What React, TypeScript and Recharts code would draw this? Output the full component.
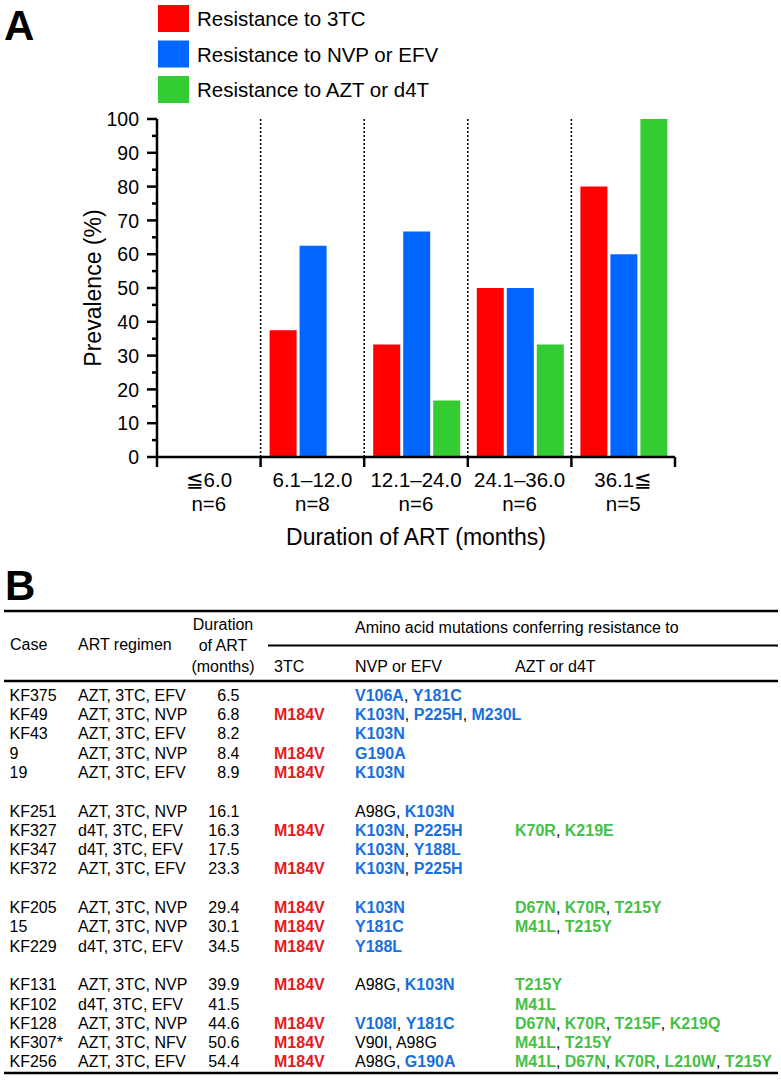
import React from "react";
import { BarChart, Bar, XAxis, YAxis, Legend } from "recharts";

// ---------- Panel A data ----------
const CATEGORIES = ["≦6.0", "6.1–12.0", "12.1–24.0", "24.1–36.0", "36.1≦"];
const SAMPLE_SIZES = ["n=6", "n=8", "n=6", "n=6", "n=5"];
const RES_3TC = [0, 37.5, 33.3, 50, 80];
const RES_NNRTI = [0, 62.5, 66.7, 50, 60];
const RES_NRTI = [0, 0, 16.7, 33.3, 100];
const Y_TICKS = [0, 5, 10, 15, 20, 25, 30, 35, 40, 45, 50, 55, 60, 65, 70, 75, 80, 85, 90, 95, 100];
const SERIES = [
  { key: "r3tc", name: "Resistance to 3TC", color: "#ff0000" },
  { key: "nnrti", name: "Resistance to NVP or EFV", color: "#0066ff" },
  { key: "nrti", name: "Resistance to AZT or d4T", color: "#33cc33" },
];

// ---------- Panel B data ----------
const CASES = ["KF375", "KF49", "KF43", "9", "19", "KF251", "KF327", "KF347", "KF372", "KF205", "15", "KF229", "KF131", "KF102", "KF128", "KF307*", "KF256"];
const REGIMENS = ["AZT, 3TC, EFV", "AZT, 3TC, NVP", "AZT, 3TC, EFV", "AZT, 3TC, NVP", "AZT, 3TC, EFV", "AZT, 3TC, NVP", "d4T, 3TC, EFV", "d4T, 3TC, EFV", "AZT, 3TC, EFV", "AZT, 3TC, NVP", "AZT, 3TC, NVP", "d4T, 3TC, EFV", "AZT, 3TC, NVP", "d4T, 3TC, EFV", "AZT, 3TC, NVP", "AZT, 3TC, NFV", "AZT, 3TC, EFV"];
const DURATIONS = ["6.5", "6.8", "8.2", "8.4", "8.9", "16.1", "16.3", "17.5", "23.3", "29.4", "30.1", "34.5", "39.9", "41.5", "44.6", "50.6", "54.4"];
const MUT_3TC = [[], ["M184V"], [], ["M184V"], ["M184V"], [], ["M184V"], [], ["M184V"], ["M184V"], ["M184V"], ["M184V"], ["M184V"], [], ["M184V"], ["M184V"], ["M184V"]];
const MUT_NNRTI = [["V106A", "Y181C"], ["K103N", "P225H", "M230L"], ["K103N"], ["G190A"], ["K103N"], ["A98G", "K103N"], ["K103N", "P225H"], ["K103N", "Y188L"], ["K103N", "P225H"], ["K103N"], ["Y181C"], ["Y188L"], ["A98G", "K103N"], [], ["V108I", "Y181C"], ["V90I", "A98G"], ["A98G", "G190A"]];
const MUT_NRTI = [[], [], [], [], [], [], ["K70R", "K219E"], [], [], ["D67N", "K70R", "T215Y"], ["M41L", "T215Y"], [], ["T215Y"], ["M41L"], ["D67N", "K70R", "T215F", "K219Q"], ["M41L", "T215Y"], ["M41L", "D67N", "K70R", "L210W", "T215Y"]];
const GROUP_SIZES = [5, 4, 3, 5];
const PLAIN_MUTATIONS = ["A98G", "V90I"];

const FONT = "'Liberation Sans', Arial, Helvetica, sans-serif";
const PLOT_TOP = 119;
const PLOT_BOTTOM = 457;
const PLOT_LEFT = 157;
const PLOT_RIGHT = 675;
const BAND = (PLOT_RIGHT - PLOT_LEFT) / CATEGORIES.length;

const TXT_RED = "#e41b1f";
const TXT_BLUE = "#1a6fde";
const TXT_GREEN = "#46c046";

const chartData = CATEGORIES.map((c, i) => ({
  cat: c,
  n: SAMPLE_SIZES[i],
  r3tc: RES_3TC[i],
  nnrti: RES_NNRTI[i],
  nrti: RES_NRTI[i],
}));

function YTick(props: any) {
  const { x, y, payload } = props;
  const major = payload.value % 10 === 0;
  return (
    <g>
      <line x1={x - (major ? 10 : 5)} x2={x} y1={y} y2={y} stroke="#000" strokeWidth={2.5} />
      {major && (
        <text x={x - 18} y={y} dy={7.2} textAnchor="end" fontSize={19.5} fill="#000" fontFamily={FONT}>
          {payload.value}
        </text>
      )}
    </g>
  );
}

function XTick(props: any) {
  const { x, y, payload, index } = props;
  const idx = typeof index === "number" ? index : CATEGORIES.indexOf(payload.value);
  const left = x - BAND / 2;
  const right = x + BAND / 2;
  const isLast = idx === CATEGORIES.length - 1;
  return (
    <g>
      <line x1={left} x2={left} y1={y} y2={y + 10} stroke="#000" strokeWidth={2.5} />
      {idx > 0 && (
        <line x1={left} x2={left} y1={y} y2={y - (PLOT_BOTTOM - PLOT_TOP)} stroke="#000" strokeWidth={1.5} strokeDasharray="2 2" />
      )}
      {isLast && <line x1={right} x2={right} y1={y} y2={y + 10} stroke="#000" strokeWidth={2.5} />}
      <text x={x} y={y + 30} textAnchor="middle" fontSize={20.5} fill="#000" fontFamily={FONT}>
        {payload.value}
      </text>
      <text x={x} y={y + 54} textAnchor="middle" fontSize={20.5} fill="#000" fontFamily={FONT}>
        {SAMPLE_SIZES[idx]}
      </text>
    </g>
  );
}

function LegendContent() {
  return (
    <svg width={320} height={105} style={{ display: "block" }}>
      {SERIES.map((s, i) => (
        <g key={s.key}>
          <rect x={0} y={i * 35.5} width={31} height={27} fill={s.color} />
          <text x={39} y={i * 35.5 + 21} fontSize={20.5} fill="#000" fontFamily={FONT}>
            {s.name}
          </text>
        </g>
      ))}
    </svg>
  );
}

function MutationText({ x, y, items, color }: { x: number; y: number; items: string[]; color: string }) {
  const parts: React.ReactNode[] = [];
  items.forEach((m, i) => {
    if (i > 0) parts.push(<tspan key={"s" + i} fill="#000" fontWeight="normal">, </tspan>);
    const plain = PLAIN_MUTATIONS.includes(m);
    parts.push(
      <tspan key={"m" + i} fill={plain ? "#000" : color} fontWeight={plain ? "normal" : "bold"}>
        {m}
      </tspan>
    );
  });
  return (
    <text x={x} y={y} fontSize={16} fontFamily={FONT} style={{ whiteSpace: "pre" }}>
      {parts}
    </text>
  );
}

function Table() {
  const rows: React.ReactNode[] = [];
  let rowIdx = 0;
  GROUP_SIZES.forEach((size, g) => {
    for (let k = 0; k < size; k++) {
      const i = rowIdx;
      const slot = i + g;
      const y = 700.7 + slot * 19.3;
      rows.push(
        <g key={i}>
          <text x={9.5} y={y} fontSize={16} fontFamily={FONT} fill="#000">{CASES[i]}</text>
          <text x={78} y={y} fontSize={16} fontFamily={FONT} fill="#000">{REGIMENS[i]}</text>
          <text x={239.5} y={y} fontSize={16} fontFamily={FONT} fill="#000" textAnchor="end">{DURATIONS[i]}</text>
          <MutationText x={274} y={y} items={MUT_3TC[i]} color={TXT_RED} />
          <MutationText x={355} y={y} items={MUT_NNRTI[i]} color={TXT_BLUE} />
          <MutationText x={515} y={y} items={MUT_NRTI[i]} color={TXT_GREEN} />
        </g>
      );
      rowIdx++;
    }
  });
  const hs = { fontSize: 16, fontFamily: FONT, fill: "#000" } as any;
  return (
    <svg width={781} height={1080} style={{ position: "absolute", left: 0, top: 0, pointerEvents: "none" }}>
      <text x={4} y={40} fontSize={42} fontWeight="bold" fontFamily={FONT} fill="#000">A</text>
      <text x={5} y={600} fontSize={42} fontWeight="bold" fontFamily={FONT} fill="#000">B</text>
      <text x={101} y={288} fontSize={23} fontFamily={FONT} fill="#000" textAnchor="middle" transform="rotate(-90 101 288)">
        Prevalence (%)
      </text>
      <text x={(PLOT_LEFT + PLOT_RIGHT) / 2} y={545} fontSize={23} fontFamily={FONT} fill="#000" textAnchor="middle">
        Duration of ART (months)
      </text>

      <line x1={4} x2={778} y1={611} y2={611} stroke="#000" strokeWidth={2.5} />
      <line x1={268} x2={778} y1={645.5} y2={645.5} stroke="#000" strokeWidth={2} />
      <line x1={4} x2={778} y1={681} y2={681} stroke="#000" strokeWidth={2.5} />
      <line x1={4} x2={778} y1={1073} y2={1073} stroke="#000" strokeWidth={2.5} />

      <text x={10} y={650} {...hs}>Case</text>
      <text x={78} y={650} {...hs}>ART regimen</text>
      <text x={223} y={630} {...hs} textAnchor="middle">Duration</text>
      <text x={223} y={651} {...hs} textAnchor="middle">of ART</text>
      <text x={223} y={672} {...hs} textAnchor="middle">(months)</text>
      <text x={355} y={633} {...hs}>Amino acid mutations conferring resistance to</text>
      <text x={274} y={672} {...hs}>3TC</text>
      <text x={355} y={672} {...hs}>NVP or EFV</text>
      <text x={515} y={672} {...hs}>AZT or d4T</text>
      {rows}
    </svg>
  );
}

export default function App() {
  const axisLine = { stroke: "#000", strokeWidth: 2.5 };
  return (
    <div style={{ position: "absolute", left: 0, top: 0, width: 781, height: 1080, background: "#fff", fontFamily: FONT }}>
      <Table />
      <div style={{ position: "absolute", left: 0, top: 0 }}>
        <BarChart
          width={781}
          height={560}
          data={chartData}
          margin={{ top: PLOT_TOP, right: 781 - PLOT_RIGHT, left: 0, bottom: 560 - PLOT_BOTTOM - 100 }}
          barCategoryGap={9}
          barGap={3}
        >
          <XAxis
            dataKey="cat"
            height={100}
            interval={0}
            tickSize={0}
            tickMargin={0}
            tickLine={false}
            axisLine={axisLine}
            tick={<XTick />}
          />
          <XAxis xAxisId="top" orientation="top" dataKey="cat" height={0} tick={false} tickLine={false} axisLine={axisLine} />
          <YAxis
            domain={[0, 100]}
            ticks={Y_TICKS}
            interval={0}
            width={PLOT_LEFT}
            tickSize={0}
            tickMargin={0}
            tickLine={false}
            axisLine={axisLine}
            tick={<YTick />}
          />
          <YAxis yAxisId="right" orientation="right" width={0} domain={[0, 100]} tick={false} tickLine={false} axisLine={axisLine} />
          <Legend
            layout="vertical"
            align="center"
            verticalAlign="middle"
            content={<LegendContent />}
            wrapperStyle={{ position: "absolute", left: 158, top: 5, width: 320, height: 105 }}
          />
          {SERIES.map((s) => (
            <Bar key={s.key} dataKey={s.key} name={s.name} fill={s.color} isAnimationActive={false} />
          ))}
        </BarChart>
      </div>
    </div>
  );
}
